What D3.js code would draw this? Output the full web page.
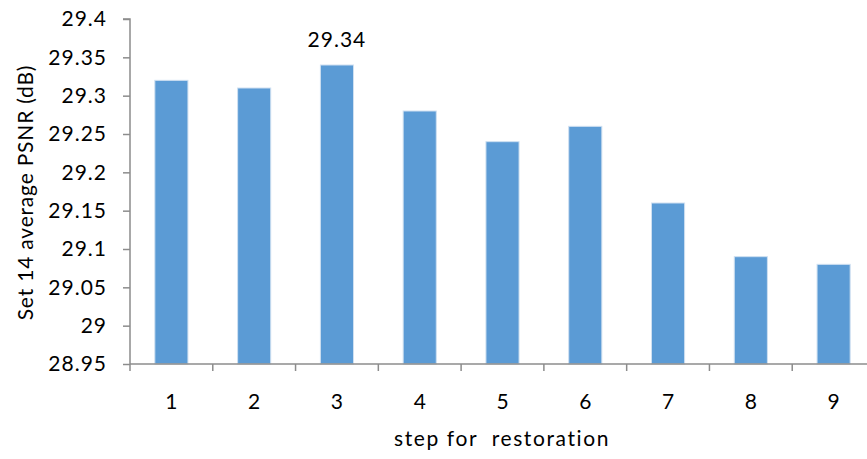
<!DOCTYPE html>
<html>
<head>
<meta charset="utf-8">
<script src="https://cdn.jsdelivr.net/npm/d3@7"></script>
<style>
  html, body { margin: 0; padding: 0; background: #fff; }
  svg { display: block; font-family: Lato, "Open Sans", sans-serif; }
</style>
</head>
<body>
<svg id="chart" width="867" height="459"></svg>
<script>
// Average PSNR on Set 14 for each restoration step
const steps = ["1", "2", "3", "4", "5", "6", "7", "8", "9"];
const psnr = [29.32, 29.31, 29.34, 29.28, 29.24, 29.26, 29.16, 29.09, 29.08];
const yTicks = [28.95, 29, 29.05, 29.1, 29.15, 29.2, 29.25, 29.3, 29.35, 29.4];
const labelledStep = "3";

const svg = d3.select("#chart");
const margin = { left: 130, top: 19, bottom: 95 };
const plotRight = 875;
const height = 459;
const fontSize = "21px";

const x = d3.scaleBand()
  .domain(steps)
  .range([margin.left, plotRight])
  .paddingInner(0.6)
  .paddingOuter(0.3);

const y = d3.scaleLinear()
  .domain([28.95, 29.4])
  .range([height - margin.bottom, margin.top]);

const axisColor = "#8c8c8c";

// bars
svg.append("g").selectAll("rect")
  .data(steps.map((s, i) => ({ step: s, value: psnr[i] })))
  .join("rect")
  .attr("x", d => x(d.step))
  .attr("y", d => y(d.value))
  .attr("width", x.bandwidth())
  .attr("height", d => y(28.95) - y(d.value))
  .attr("fill", "#5b9bd5")
  .attr("stroke", "#cfe0f1")
  .attr("stroke-width", 1);

// y axis
const yAxis = svg.append("g")
  .attr("transform", `translate(${margin.left},0)`)
  .call(d3.axisLeft(y).tickValues(yTicks).tickSize(7).tickPadding(17)
    .tickFormat(d => String(+d.toFixed(2))));
yAxis.selectAll("path, line").attr("stroke", axisColor).attr("stroke-width", 1.5);
yAxis.select(".domain").attr("d", `M-7,${y(29.4)}H0V${y(28.95)}`);
yAxis.selectAll("text").attr("fill", "#000").style("font-size", fontSize)
  .style("font-family", "Lato, sans-serif").style("letter-spacing", "1px")
  .attr("dx", "1px");

// x axis: ticks sit on category boundaries
const boundaries = d3.range(steps.length + 1).map(i => margin.left + i * (plotRight - margin.left) / steps.length);
const xg = svg.append("g");
xg.append("line")
  .attr("x1", margin.left).attr("x2", plotRight)
  .attr("y1", y(28.95)).attr("y2", y(28.95))
  .attr("stroke", axisColor).attr("stroke-width", 1.5);
xg.selectAll("line.tick")
  .data(boundaries)
  .join("line")
  .attr("class", "tick")
  .attr("x1", d => d).attr("x2", d => d)
  .attr("y1", y(28.95)).attr("y2", y(28.95) + 7)
  .attr("stroke", axisColor).attr("stroke-width", 1.5);
xg.selectAll("text")
  .data(steps)
  .join("text")
  .attr("x", d => x(d) + x.bandwidth() / 2)
  .attr("y", 409)
  .attr("text-anchor", "middle")
  .style("font-size", fontSize)
  .text(d => d);

// value label on the best step
const bestIdx = steps.indexOf(labelledStep);
svg.append("text")
  .attr("x", x(labelledStep) + x.bandwidth() / 2)
  .attr("y", y(psnr[bestIdx]) - 18)
  .attr("text-anchor", "middle")
  .style("font-size", fontSize)
  .style("letter-spacing", "1px")
  .text(psnr[bestIdx].toFixed(2));

// axis titles
svg.append("text")
  .attr("transform", `translate(33,${(y(29.4) + y(28.95)) / 2 + 1}) rotate(-90)`)
  .attr("text-anchor", "middle")
  .style("font-size", fontSize)
  .style("letter-spacing", "0.8px")
  .text("Set 14 average PSNR (dB)");

svg.append("text")
  .attr("x", 502)
  .attr("y", 446)
  .attr("text-anchor", "middle")
  .style("font-size", fontSize)
  .style("letter-spacing", "1.6px")
  .style("white-space", "pre")
  .attr("xml:space", "preserve")
  .text("step for  restoration");
</script>
</body>
</html>
